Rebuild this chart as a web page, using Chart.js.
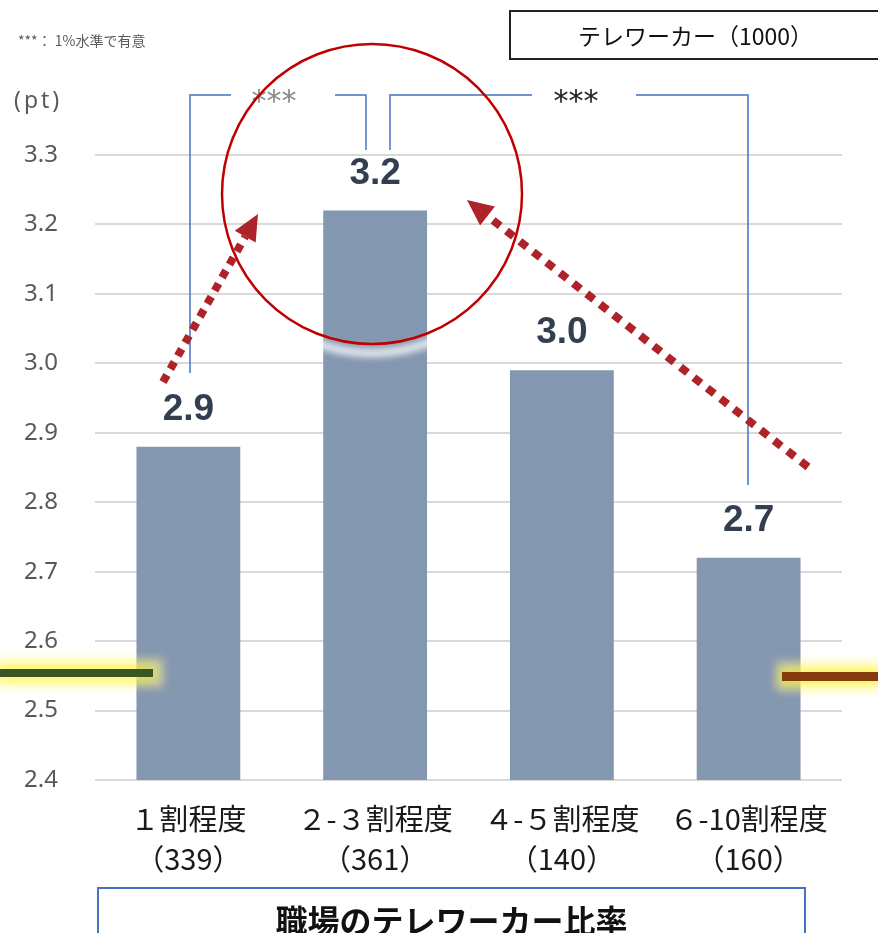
<!DOCTYPE html>
<html>
<head>
<meta charset="utf-8">
<script src="https://cdn.jsdelivr.net/npm/chart.js@4.4.1/dist/chart.umd.min.js"></script>
<style>
body{margin:0;background:#fff;}
#wrap{position:relative;width:878px;height:933px;overflow:hidden;font-family:"Noto Sans CJK JP","Noto Sans",sans-serif;}
#c{position:absolute;left:0;top:0;}
.note{position:absolute;left:18px;top:30px;font-size:14px;color:#595959;white-space:nowrap;}
.unit{position:absolute;left:14px;top:83px;font-size:23px;color:#595959;font-family:"Noto Sans",sans-serif;letter-spacing:3px;}
.legendBox{position:absolute;left:509px;top:10px;width:371px;height:50px;box-sizing:border-box;border:2px solid #222;border-right:none;
  text-align:center;line-height:46px;font-size:23px;color:#111;white-space:nowrap;}
.xTitle{position:absolute;left:97px;top:887px;width:709px;height:70px;box-sizing:border-box;border:2px solid #4472c4;
  text-align:center;padding-top:7px;font-size:32px;font-weight:bold;color:#111;}
</style>
</head>
<body>
<div id="wrap">
  <canvas id="c" width="878" height="933"></canvas>
  <div class="note">***： 1%水準で有意</div>
  <div class="unit">(pt)</div>
  <div class="legendBox">テレワーカー（1000）</div>
  <div class="xTitle">職場のテレワーカー比率</div>
</div>
<script>
var categories = ['１割程度', '２-３割程度', '４-５割程度', '６-10割程度'];
var sampleSizes = [339, 361, 140, 160];
var scores = [2.88, 3.22, 2.99, 2.72];
var yMin = 2.4, yMax = 3.3, yStep = 0.1;

var barColor = '#8497b0';
var red = '#ad2329';
var blue = '#4472c4';

function dottedArrow(ctx, x1, y1, x2, y2, dash){
    var ang = Math.atan2(y2 - y1, x2 - x1);
    var head = 26, half = 12;
    var bx = x2 - Math.cos(ang) * head, by = y2 - Math.sin(ang) * head;
    ctx.save();
    ctx.strokeStyle = red;
    ctx.lineWidth = 8;
    ctx.setLineDash(dash);
    ctx.beginPath();
    ctx.moveTo(x1, y1);
    ctx.lineTo(bx, by);
    ctx.stroke();
    ctx.setLineDash([]);
    ctx.fillStyle = red;
    ctx.beginPath();
    ctx.moveTo(x2, y2);
    ctx.lineTo(bx + Math.sin(ang) * half, by - Math.cos(ang) * half);
    ctx.lineTo(bx - Math.sin(ang) * half, by + Math.cos(ang) * half);
    ctx.closePath();
    ctx.fill();
    ctx.restore();
}

function glowLine(ctx, x, y, w, h, color){
    ctx.save();
    ctx.fillStyle = 'rgba(255,250,140,0.6)';
    ctx.filter = 'blur(5px)';
    ctx.fillRect(x - 6, y - 10, w + 16, h + 20);
    ctx.filter = 'none';
    ctx.shadowColor = 'rgba(255,235,0,0.9)';
    ctx.shadowBlur = 12;
    ctx.fillStyle = color;
    ctx.fillRect(x, y, w, h);
    ctx.restore();
}

var overlay = {
    id: 'overlay',
    afterDatasetsDraw: function(chart){
        var ctx = chart.ctx;
        var meta = chart.getDatasetMeta(0);
        ctx.save();
        ctx.font = 'bold 37px "Liberation Sans", Arial, sans-serif';
        ctx.fillStyle = '#333f50';
        ctx.textAlign = 'center';
        ctx.textBaseline = 'middle';
        meta.data.forEach(function(bar, i){
            ctx.fillText(scores[i].toFixed(1), bar.x, bar.y - 37);
        });
        ctx.restore();
    },
    afterDraw: function(chart){
        var ctx = chart.ctx;
        // significance brackets
        ctx.save();
        ctx.strokeStyle = blue;
        ctx.lineWidth = 1.5;
        ctx.beginPath();
        ctx.moveTo(190, 373); ctx.lineTo(190, 95); ctx.lineTo(231, 95);
        ctx.moveTo(335, 95); ctx.lineTo(366, 95); ctx.lineTo(366, 150);
        ctx.moveTo(390, 150); ctx.lineTo(390, 95); ctx.lineTo(532, 95);
        ctx.moveTo(636, 95); ctx.lineTo(748, 95); ctx.lineTo(748, 485);
        ctx.stroke();
        ctx.font = '30px "DejaVu Sans", sans-serif';
        ctx.textAlign = 'center';
        ctx.textBaseline = 'middle';
        ctx.fillStyle = '#8a8a8a';
        ctx.fillText('***', 274, 103);
        ctx.fillStyle = '#222';
        ctx.fillText('***', 576, 103);
        ctx.restore();

        // highlight circle
        ctx.save();
        ctx.strokeStyle = 'rgba(255,255,255,0.75)';
        ctx.lineWidth = 9;
        ctx.filter = 'blur(3px)';
        ctx.beginPath();
        ctx.arc(372, 194, 159, Math.PI * 0.36, Math.PI * 0.64);
        ctx.stroke();
        ctx.filter = 'none';
        ctx.strokeStyle = '#c00000';
        ctx.lineWidth = 2.5;
        ctx.beginPath();
        ctx.arc(372, 194, 150, 0, Math.PI * 2);
        ctx.stroke();
        ctx.restore();

        // trend arrows
        dottedArrow(ctx, 163, 382, 258, 214, [8, 7]);
        dottedArrow(ctx, 808, 467, 467, 200, [9, 8]);

        // side markers
        glowLine(ctx, 0, 669, 153, 8, '#375623');
        glowLine(ctx, 782, 672, 100, 9, '#843c0c');
    }
};

var ctx = document.getElementById('c').getContext('2d');
var chart = new Chart(ctx, {
    type: 'bar',
    data: {
        labels: categories.map(function(c, i){ return [c, '（' + sampleSizes[i] + '）']; }),
        datasets: [{
            label: 'テレワーカー（1000）',
            data: scores,
            backgroundColor: barColor,
            barPercentage: 0.556,
            categoryPercentage: 1
        }]
    },
    options: {
        responsive: false,
        animation: false,
        layout: {padding: {top: 155, right: 36, left: 0, bottom: 0}},
        plugins: {legend: {display: false}, tooltip: {enabled: false}},
        scales: {
            x: {
                grid: {display: false},
                border: {display: false},
                ticks: {
                    color: '#1a1a1a',
                    font: {size: 29, family: '"Noto Sans CJK JP", sans-serif', lineHeight: 1.38},
                    padding: 11,
                    maxRotation: 0,
                    autoSkip: false
                },
                afterFit: function(s){ s.height = 153; }
            },
            y: {
                min: yMin,
                max: yMax,
                ticks: {
                    stepSize: yStep,
                    color: '#595959',
                    font: {size: 24, family: '"Noto Sans", sans-serif'},
                    padding: 37,
                    callback: function(v){ return v.toFixed(1); }
                },
                grid: {color: '#d9d9d9', lineWidth: 2, drawTicks: false},
                border: {display: false},
                afterFit: function(s){ s.width = 95; }
            }
        }
    },
    plugins: [overlay]
});
</script>
</body>
</html>
